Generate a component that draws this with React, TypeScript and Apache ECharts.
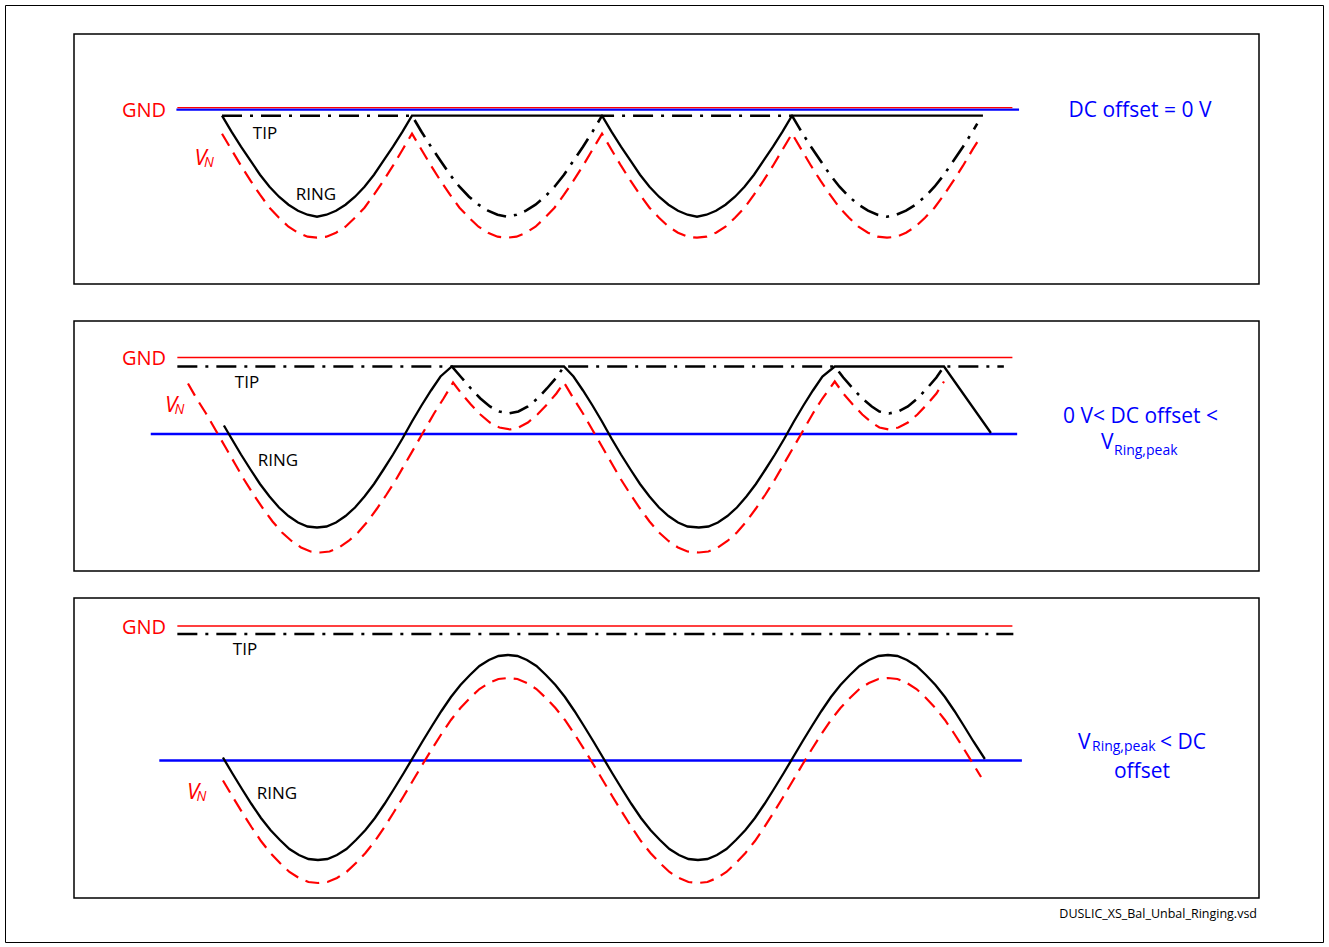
import React, { useEffect, useRef } from "react";
import * as echarts from "echarts";

// ---------------- data (time in ms, voltage in V relative to GND) ----------------
type P = [number, number];

// Panel 1: DC offset = 0 V
const gnd1: P[] = [[-2.35, 0], [41.6, 0]];
const dc1: P[] = [[-2.4, -2], [41.95, -2]];
const ring1: P[] = [
  [0, -8], [0.5, -24], [1, -39], [1.5, -53], [2, -67], [2.5, -79], [3, -89], [3.5, -97], [4, -103], [4.5, -107], [5, -109],
  [5.5, -107], [6, -103], [6.5, -97], [7, -89], [7.5, -79], [8, -67], [8.5, -53], [9, -39], [9.5, -24], [10, -8],
  [20, -8], [20.5, -24], [21, -39], [21.5, -53], [22, -67], [22.5, -79], [23, -89], [23.5, -97], [24, -103], [24.5, -107], [25, -109],
  [25.5, -107], [26, -103], [26.5, -97], [27, -89], [27.5, -79], [28, -67], [28.5, -53], [29, -39], [29.5, -24], [30, -8],
  [40.05, -8],
];
const tip1: P[] = [
  [0, -8], [10, -8],
  [10.5, -24], [11, -39], [11.5, -53], [12, -67], [12.5, -79], [13, -89], [13.5, -97], [14, -103], [14.5, -107], [15, -109],
  [15.5, -107], [16, -103], [16.5, -97], [17, -89], [17.5, -79], [18, -67], [18.5, -53], [19, -39], [19.5, -24], [20, -8],
  [30, -8],
  [30.5, -24], [31, -39], [31.5, -53], [32, -67], [32.5, -79], [33, -89], [33.5, -97], [34, -103], [34.5, -107], [35, -109],
  [35.5, -107], [36, -103], [36.5, -97], [37, -89], [37.5, -79], [38, -67], [38.5, -53], [39, -39], [39.5, -24], [39.75, -16],
];
const vn1: P[] = [
  [0, -26], [0.5, -42], [1, -58], [1.5, -73], [2, -87], [2.5, -100], [3, -110], [3.5, -119], [4, -125], [4.5, -129], [5, -130],
  [5.5, -129], [6, -125], [6.5, -119], [7, -110], [7.5, -100], [8, -87], [8.5, -73], [9, -58], [9.5, -42], [10, -26],
  [10.5, -42], [11, -58], [11.5, -73], [12, -87], [12.5, -100], [13, -110], [13.5, -119], [14, -125], [14.5, -129], [15, -130],
  [15.5, -129], [16, -125], [16.5, -119], [17, -110], [17.5, -100], [18, -87], [18.5, -73], [19, -58], [19.5, -42], [20, -26],
  [20.5, -42], [21, -58], [21.5, -73], [22, -87], [22.5, -100], [23, -110], [23.5, -119], [24, -125], [24.5, -129], [25, -130],
  [25.5, -129], [26, -125], [26.5, -119], [27, -110], [27.5, -100], [28, -87], [28.5, -73], [29, -58], [29.5, -42], [30, -26],
  [30.5, -42], [31, -58], [31.5, -73], [32, -87], [32.5, -100], [33, -110], [33.5, -119], [34, -125], [34.5, -129], [35, -130],
  [35.5, -129], [36, -125], [36.5, -119], [37, -110], [37.5, -100], [38, -87], [38.5, -73], [39, -58], [39.5, -42], [39.8, -33],
];

// Panel 2: 0 V < DC offset < V Ring,peak
const gnd2: P[] = [[-2.35, 0], [41.6, 0]];
const dc2: P[] = [[-3.75, -76.5], [41.85, -76.5]];
const tip2: P[] = [
  [-2.35, -9], [12.1, -9],
  [12.6, -20], [13.1, -31], [13.6, -41], [14.1, -49], [14.6, -54], [15.1, -56], [15.6, -54], [16.1, -49], [16.6, -41], [17.1, -31], [17.6, -20], [18.0, -9],
  [32.25, -9],
  [32.7, -20], [33.2, -31], [33.7, -41], [34.2, -49], [34.6, -54], [35.1, -56], [35.6, -54], [36.1, -49], [36.6, -41], [37.1, -31], [37.6, -20], [38.0, -9],
  [41.15, -9],
];
const ring2: P[] = [
  [0.1, -68], [0.5, -81], [1, -97], [1.5, -112], [2, -126.5], [2.5, -139], [3, -150], [3.5, -158.5], [4, -165], [4.5, -169], [5, -170],
  [5.5, -169], [6, -165], [6.5, -158.5], [7, -150], [7.5, -139], [8, -126.5], [8.5, -112], [9, -97], [9.5, -81], [10, -64],
  [10.5, -48], [11, -33], [11.5, -19], [12.1, -9],
  [18.0, -9],
  [18.5, -19], [19, -33], [19.5, -48], [20, -64], [20.5, -81], [21, -97], [21.5, -112], [22, -126.5], [22.5, -139], [23, -150],
  [23.5, -158.5], [24, -165], [24.5, -169], [25.1, -170], [25.6, -169], [26.1, -165], [26.6, -158.5], [27.1, -150], [27.6, -139],
  [28.1, -126.5], [28.6, -112], [29.1, -97], [29.6, -81], [30.1, -64], [30.6, -48], [31.1, -33], [31.6, -19], [32.25, -9],
  [38.0, -9], [40.47, -75.5],
];
const vn2: P[] = [
  [-1.79, -26], [-1.34, -41], [-0.84, -56], [-0.34, -72.5], [0.16, -89], [0.66, -105.5], [1.16, -122], [1.66, -137], [2.16, -151],
  [2.66, -164], [3.16, -175], [3.66, -183.5], [4.16, -190], [4.66, -194], [5.16, -195], [5.66, -194], [6.16, -190], [6.66, -183.5],
  [7.16, -175], [7.66, -164], [8.16, -151], [8.66, -137], [9.16, -122], [9.66, -105.5], [10.16, -89], [10.66, -72.5], [11.16, -56],
  [11.66, -41], [12.16, -25],
  [12.6, -36], [13.1, -47], [13.6, -57], [14.1, -65], [14.6, -70], [15.16, -72], [15.6, -70], [16.1, -65], [16.6, -57], [17.1, -47], [17.6, -36], [18.0, -25],
  [18.5, -41], [19, -56], [19.5, -72.5], [20, -89], [20.5, -105.5], [21, -122], [21.5, -137], [22, -151], [22.5, -164], [23, -175],
  [23.5, -183.5], [24, -190], [24.5, -194], [25.1, -195], [25.6, -194], [26.1, -190], [26.6, -183.5], [27.1, -175], [27.6, -164],
  [28.1, -151], [28.6, -137], [29.1, -122], [29.6, -105.5], [30.1, -89], [30.6, -72.5], [31.1, -56], [31.6, -41], [32.25, -24],
  [32.7, -36], [33.2, -47], [33.7, -57], [34.2, -65], [34.6, -70], [35.1, -72], [35.6, -70], [36.1, -65], [36.6, -57], [37.1, -47], [37.6, -36], [38.0, -24],
];

// Panel 3: V Ring,peak < DC offset
const gnd3: P[] = [[-2.35, 0], [41.6, 0]];
const tip3: P[] = [[-2.35, -8], [41.65, -8]];
const dc3: P[] = [[-3.3, -134.5], [42.1, -134.5]];
const ring3: P[] = [
  [0.05, -131.5], [0.55, -147.5], [1.05, -163], [1.55, -178], [2.05, -192], [2.55, -204], [3.05, -214], [3.55, -223], [4.05, -229], [4.55, -233],
  [5.05, -234], [5.55, -233], [6.05, -229], [6.55, -223], [7.05, -214], [7.55, -204], [8.05, -192], [8.55, -178], [9.05, -163], [9.55, -147.5],
  [10.05, -131.5], [10.55, -115.5], [11.05, -100], [11.55, -85], [12.05, -71], [12.55, -59], [13.05, -49], [13.55, -40], [14.05, -34], [14.55, -30],
  [15.05, -29], [15.55, -30], [16.05, -34], [16.55, -40], [17.05, -49], [17.55, -59], [18.05, -71], [18.55, -85], [19.05, -100], [19.55, -115.5],
  [20.05, -131.5], [20.55, -147.5], [21.05, -163], [21.55, -178], [22.05, -192], [22.55, -204], [23.05, -214], [23.55, -223], [24.05, -229], [24.55, -233],
  [25.05, -234], [25.55, -233], [26.05, -229], [26.55, -223], [27.05, -214], [27.55, -204], [28.05, -192], [28.55, -178], [29.05, -163], [29.55, -147.5],
  [30.05, -131.5], [30.55, -115.5], [31.05, -100], [31.55, -85], [32.05, -71], [32.55, -59], [33.05, -49], [33.55, -40], [34.05, -34], [34.55, -30],
  [35.05, -29], [35.55, -30], [36.05, -34], [36.55, -40], [37.05, -49], [37.55, -59], [38.05, -71], [38.55, -85], [39.05, -100], [39.55, -115.5],
  [40.15, -133],
];
const vn3: P[] = [
  [0.05, -154.5], [0.55, -170.5], [1.05, -186], [1.55, -201], [2.05, -215], [2.55, -227], [3.05, -237], [3.55, -246], [4.05, -252], [4.55, -256],
  [5.05, -257], [5.55, -256], [6.05, -252], [6.55, -246], [7.05, -237], [7.55, -227], [8.05, -215], [8.55, -201], [9.05, -186], [9.55, -170.5],
  [10.05, -154.5], [10.55, -138.5], [11.05, -123], [11.55, -108], [12.05, -94], [12.55, -82], [13.05, -72], [13.55, -63], [14.05, -57], [14.55, -53],
  [15.05, -52], [15.55, -53], [16.05, -57], [16.55, -63], [17.05, -72], [17.55, -82], [18.05, -94], [18.55, -108], [19.05, -123], [19.55, -138.5],
  [20.05, -154.5], [20.55, -170.5], [21.05, -186], [21.55, -201], [22.05, -215], [22.55, -227], [23.05, -237], [23.55, -246], [24.05, -252], [24.55, -256],
  [25.05, -257], [25.55, -256], [26.05, -252], [26.55, -246], [27.05, -237], [27.55, -227], [28.05, -215], [28.55, -201], [29.05, -186], [29.55, -170.5],
  [30.05, -154.5], [30.55, -138.5], [31.05, -123], [31.55, -108], [32.05, -94], [32.55, -82], [33.05, -72], [33.55, -63], [34.05, -57], [34.55, -53],
  [35.05, -52], [35.55, -53], [36.05, -57], [36.55, -63], [37.05, -72], [37.55, -82], [38.05, -94], [38.55, -108], [39.05, -123], [39.55, -138.5],
  [39.95, -151],
];

const caseLabels = ["DC offset = 0 V", "0 V< DC offset <", "offset"];
const footer = "DUSLIC_XS_Bal_Unbal_Ringing.vsd";

// ---------------- layout ----------------
const W = 1329;
const H = 947;
const PANEL_LEFT = 74;
const PANEL_WIDTH = 1185;
const T0_PX = 222; // pixel position of t = 0
const PX_PER_MS = 19;
const PANELS = [
  { top: 34, height: 250, gndPx: 107.7 },
  { top: 321, height: 250, gndPx: 357.5 },
  { top: 598, height: 300, gndPx: 626 },
];

const RED = "#ff0000";
const BLUE = "#0000ff";
const FONT = "'Open Sans', 'Noto Sans', sans-serif";
const DASH_DOT = [20, 8, 3, 8];
const DASHED = [14, 8];

function lineSeries(gi: number, data: P[], color: string, width: number, type: any, z: number) {
  return {
    type: "line",
    xAxisIndex: gi,
    yAxisIndex: gi,
    data,
    symbol: "none",
    silent: true,
    clip: false,
    z,
    lineStyle: { color, width, type, cap: "butt", join: "miter" },
  };
}

function txt(text: string, x: number, y: number, size: number, color: string, align = "center", italic = false) {
  return {
    type: "text",
    x,
    y,
    silent: true,
    z: 100,
    style: {
      text,
      fill: color,
      fontFamily: FONT,
      fontSize: size,
      fontStyle: italic ? "italic" : "normal",
      align,
      textAlign: align,
      verticalAlign: "middle",
      textVerticalAlign: "middle",
    },
  };
}

export default function App() {
  const ref = useRef<HTMLDivElement>(null);

  useEffect(() => {
    document.body.style.margin = "0";
    if (!ref.current) return;
    const chart = echarts.init(ref.current, undefined, { renderer: "svg" });

    const xMin = (PANEL_LEFT - T0_PX) / PX_PER_MS;
    const xMax = (PANEL_LEFT + PANEL_WIDTH - T0_PX) / PX_PER_MS;

    const grid = PANELS.map((p) => ({
      left: PANEL_LEFT,
      top: p.top,
      width: PANEL_WIDTH,
      height: p.height,
      show: true,
      borderColor: "#000",
      borderWidth: 1.5,
      backgroundColor: "transparent",
    }));
    const xAxis = PANELS.map((_, i) => ({ type: "value", gridIndex: i, min: xMin, max: xMax, show: false }));
    const yAxis = PANELS.map((p, i) => ({
      type: "value",
      gridIndex: i,
      min: p.gndPx - (p.top + p.height),
      max: p.gndPx - p.top,
      show: false,
    }));

    const series = [
      // panel 1
      lineSeries(0, dc1, BLUE, 2.2, "solid", 2),
      lineSeries(0, gnd1, RED, 1.3, "solid", 3),
      lineSeries(0, vn1, RED, 2.2, DASHED, 4),
      lineSeries(0, tip1, "#000", 2.6, DASH_DOT, 5),
      lineSeries(0, ring1, "#000", 2.3, "solid", 6),
      // panel 2
      lineSeries(1, dc2, BLUE, 2.5, "solid", 2),
      lineSeries(1, gnd2, RED, 1.5, "solid", 3),
      lineSeries(1, vn2, RED, 2.2, DASHED, 4),
      lineSeries(1, tip2, "#000", 2.6, DASH_DOT, 5),
      lineSeries(1, ring2, "#000", 2.3, "solid", 6),
      // panel 3
      lineSeries(2, dc3, BLUE, 2.5, "solid", 2),
      lineSeries(2, gnd3, RED, 1.5, "solid", 3),
      lineSeries(2, tip3, "#000", 2.6, DASH_DOT, 5),
      lineSeries(2, vn3, RED, 2.2, DASHED, 4),
      lineSeries(2, ring3, "#000", 2.3, "solid", 6),
    ];

    const graphic: any[] = [
      {
        type: "rect",
        silent: true,
        z: 0,
        shape: { x: 5.5, y: 5.5, width: W - 11, height: H - 10 },
        style: { fill: "none", stroke: "#000", lineWidth: 1 },
      },
      // panel 1
      txt("GND", 166, 109.5, 20, RED, "right"),
      txt("TIP", 265, 132, 17, "#000"),
      txt("RING", 316, 193, 17, "#000"),
      txt("V", 200.5, 155.5, 22, RED, "center", true),
      txt("N", 209, 161.5, 14, RED, "center", true),
      txt(caseLabels[0], 1140, 108.5, 21, BLUE),
      // panel 2
      txt("GND", 166, 357, 20, RED, "right"),
      txt("TIP", 247, 381, 17, "#000"),
      txt("RING", 278, 459, 17, "#000"),
      txt("V", 171, 402.5, 22, RED, "center", true),
      txt("N", 179.5, 408.5, 14, RED, "center", true),
      txt(caseLabels[1], 1140.5, 414.5, 21, BLUE),
      txt("V", 1101, 440.5, 21, BLUE, "left"),
      txt("Ring,peak", 1114, 449.5, 14, BLUE, "left"),
      // panel 3
      txt("GND", 166, 626.5, 20, RED, "right"),
      txt("TIP", 245, 648, 17, "#000"),
      txt("RING", 277, 792, 17, "#000"),
      txt("V", 193, 789.5, 22, RED, "center", true),
      txt("N", 201.5, 795.5, 14, RED, "center", true),
      txt("V", 1078, 741, 21, BLUE, "left"),
      txt("Ring,peak", 1092, 745.5, 14, BLUE, "left"),
      txt("< DC", 1160, 741, 21, BLUE, "left"),
      txt(caseLabels[2], 1142, 770, 21, BLUE),
      // footer
      txt(footer, 1257, 913, 12.5, "#000", "right"),
    ];

    chart.setOption({
      animation: false,
      backgroundColor: "#fff",
      grid,
      xAxis,
      yAxis,
      series,
      graphic,
    } as any);

    return () => chart.dispose();
  }, []);

  return <div ref={ref} style={{ width: W, height: H }} />;
}
